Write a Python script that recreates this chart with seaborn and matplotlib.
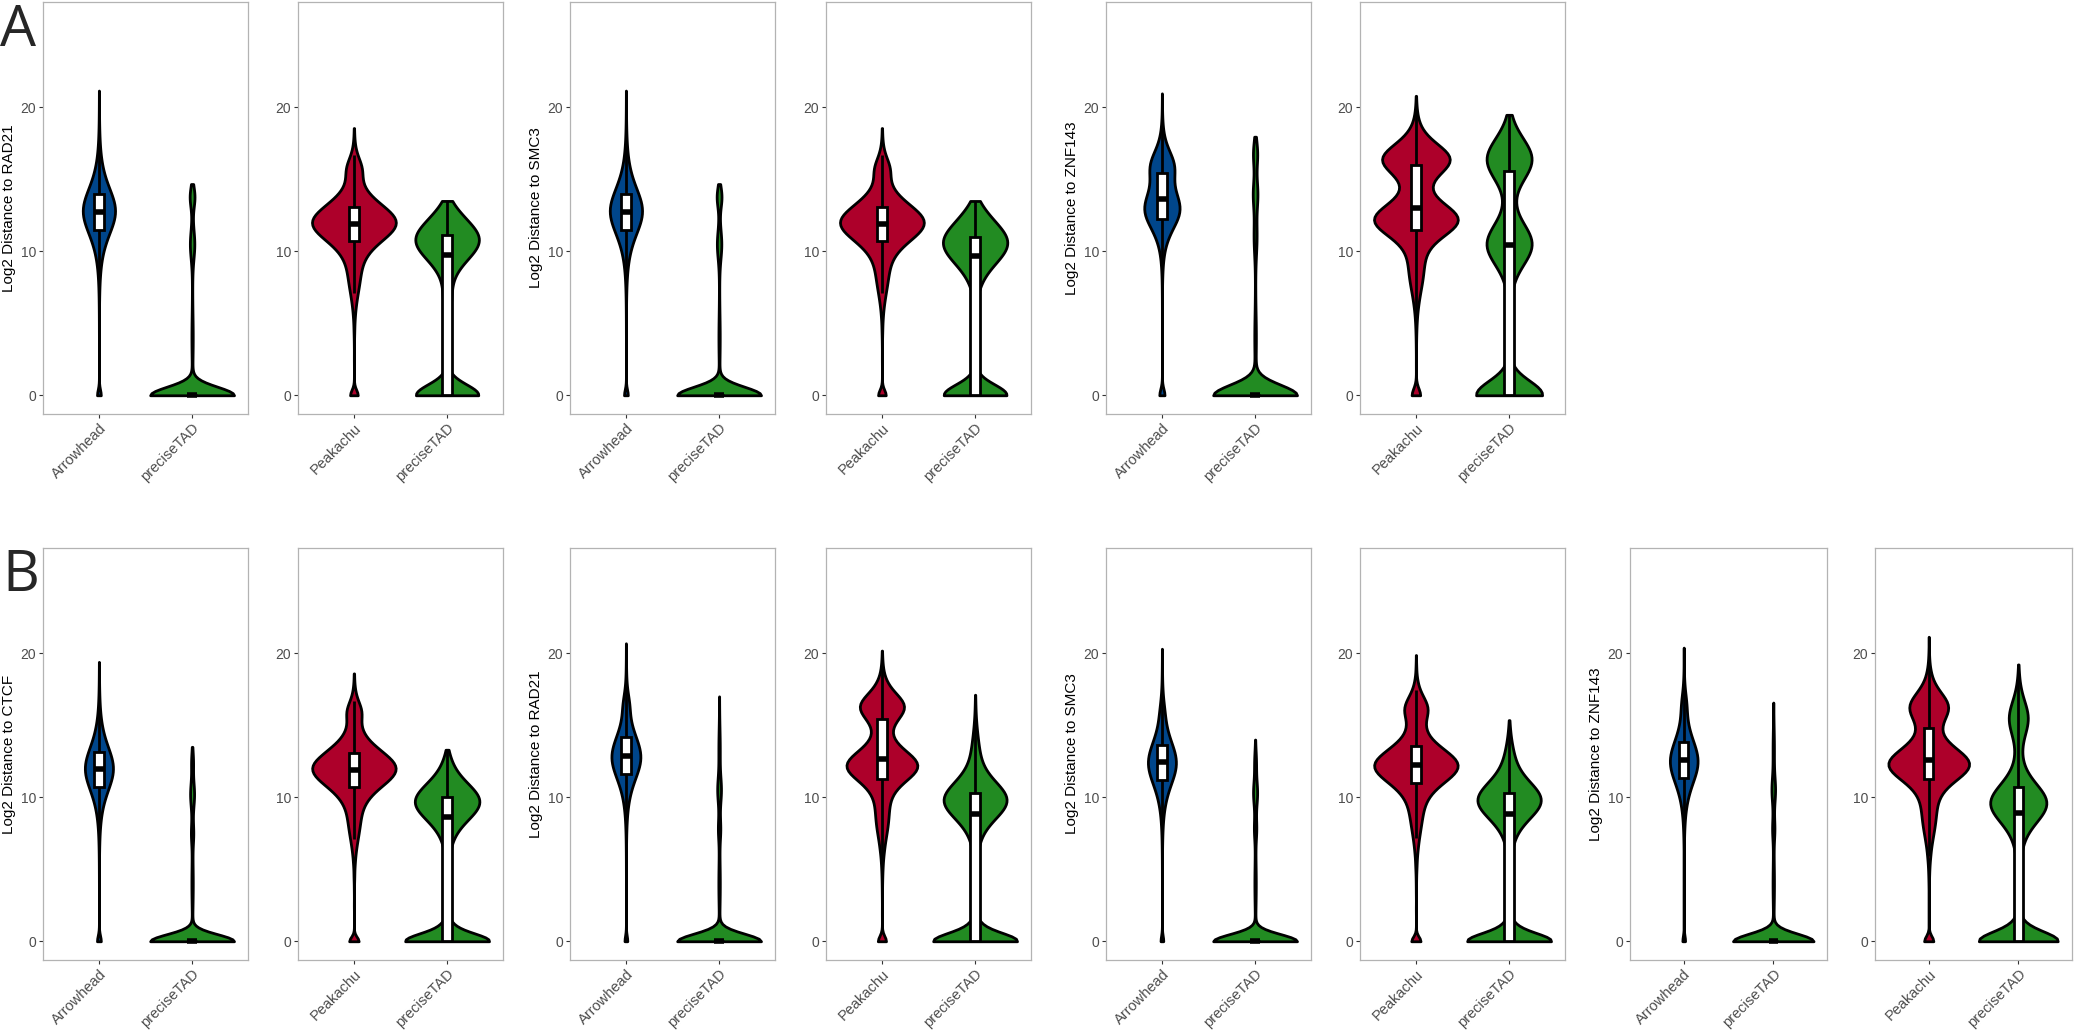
import numpy as np
import pandas as pd
import matplotlib
matplotlib.use("Agg")
import matplotlib.pyplot as plt
import seaborn as sns

# each violin is described by the modes:
# (centre, spread, share) in log2 distance, plus the largest value shown
# row A
A_RAD21_arrow = [(12.8, 2.0, 0.975), (0.0, 0.0, 0.025)]
A_RAD21_arrow_max = 22.2
A_RAD21_arrow_ptad = [(0.0, 0.0, 0.82), (4.0, 2.0, 0.04), (10.5, 1.0, 0.08), (13.8, 0.5, 0.06)]
A_RAD21_arrow_ptad_max = 14.7
A_RAD21_peak = [(12.0, 1.6, 0.84), (15.8, 0.8, 0.06), (8.0, 1.6, 0.08), (0.0, 0.0, 0.02)]
A_RAD21_peak_max = 19.0
A_RAD21_peak_ptad = [(0.0, 0.0, 0.28), (0.8, 0.4, 0.03), (6.5, 0.8, 0.04), (10.8, 1.5, 0.65)]
A_RAD21_peak_ptad_max = 13.5

A_SMC3_arrow = [(12.8, 2.0, 0.975), (0.0, 0.0, 0.025)]
A_SMC3_arrow_max = 21.8
A_SMC3_arrow_ptad = [(0.0, 0.0, 0.82), (4.0, 2.0, 0.04), (10.5, 1.0, 0.08), (13.8, 0.5, 0.06)]
A_SMC3_arrow_ptad_max = 14.7
A_SMC3_peak = [(12.0, 1.6, 0.84), (15.8, 0.8, 0.06), (8.0, 1.6, 0.08), (0.0, 0.0, 0.02)]
A_SMC3_peak_max = 18.7
A_SMC3_peak_ptad = [(0.0, 0.0, 0.28), (0.8, 0.4, 0.03), (10.6, 1.6, 0.69)]
A_SMC3_peak_ptad_max = 13.5

A_ZNF143_arrow = [(12.9, 1.6, 0.67), (16.0, 1.2, 0.30), (0.0, 0.0, 0.03)]
A_ZNF143_arrow_max = 22.1
A_ZNF143_arrow_ptad = [(0.0, 0.0, 0.80), (4.0, 2.0, 0.04), (11.0, 1.2, 0.05), (14.0, 0.8, 0.06), (16.8, 0.6, 0.05)]
A_ZNF143_arrow_ptad_max = 18.0
A_ZNF143_peak = [(12.2, 1.3, 0.50), (16.4, 1.2, 0.38), (8.5, 1.8, 0.10), (0.0, 0.0, 0.02)]
A_ZNF143_peak_max = 21.0
A_ZNF143_peak_ptad = [(0.0, 0.0, 0.28), (0.8, 0.4, 0.03), (5.0, 2.0, 0.03), (10.5, 1.3, 0.33), (16.4, 1.3, 0.33)]
A_ZNF143_peak_ptad_max = 19.5

# row B
B_CTCF_arrow = [(12.0, 1.9, 0.97), (0.0, 0.0, 0.03)]
B_CTCF_arrow_max = 19.6
B_CTCF_arrow_ptad = [(0.0, 0.0, 0.82), (4.0, 2.0, 0.05), (7.5, 0.6, 0.03), (10.2, 0.9, 0.075), (12.5, 0.6, 0.025)]
B_CTCF_arrow_ptad_max = 13.5
B_CTCF_peak = [(12.0, 1.6, 0.84), (16.0, 0.8, 0.06), (8.0, 1.6, 0.08), (0.0, 0.0, 0.02)]
B_CTCF_peak_max = 18.6
B_CTCF_peak_ptad = [(0.0, 0.0, 0.28), (0.8, 0.4, 0.05), (5.0, 2.0, 0.03), (9.7, 1.5, 0.64)]
B_CTCF_peak_ptad_max = 13.3

B_RAD21_arrow = [(12.8, 1.9, 0.93), (16.5, 0.8, 0.05), (0.0, 0.0, 0.02)]
B_RAD21_arrow_max = 21.05
B_RAD21_arrow_ptad = [(0.0, 0.0, 0.82), (4.0, 2.0, 0.05), (7.8, 0.6, 0.03), (10.5, 0.9, 0.065), (13.5, 1.5, 0.035)]
B_RAD21_arrow_ptad_max = 17.1
B_RAD21_peak = [(12.2, 1.3, 0.56), (16.3, 1.1, 0.30), (8.5, 1.8, 0.12), (0.0, 0.0, 0.02)]
B_RAD21_peak_max = 20.3
B_RAD21_peak_ptad = [(0.0, 0.0, 0.28), (0.8, 0.4, 0.05), (5.0, 2.0, 0.03), (9.8, 1.5, 0.60), (13.5, 1.5, 0.04)]
B_RAD21_peak_ptad_max = 17.9

B_SMC3_arrow = [(12.4, 1.9, 0.95), (16.0, 0.9, 0.03), (0.0, 0.0, 0.02)]
B_SMC3_arrow_max = 20.6
B_SMC3_arrow_ptad = [(0.0, 0.0, 0.82), (4.0, 2.0, 0.05), (7.8, 0.6, 0.03), (10.3, 0.9, 0.075), (12.5, 0.7, 0.025)]
B_SMC3_arrow_ptad_max = 14.1
B_SMC3_peak = [(12.2, 1.5, 0.76), (16.2, 1.0, 0.13), (8.5, 1.8, 0.09), (0.0, 0.0, 0.02)]
B_SMC3_peak_max = 20.3
B_SMC3_peak_ptad = [(0.0, 0.0, 0.28), (0.8, 0.4, 0.05), (5.0, 2.0, 0.03), (9.8, 1.5, 0.61), (13.0, 1.2, 0.03)]
B_SMC3_peak_ptad_max = 15.4

B_ZNF143_arrow = [(12.5, 1.9, 0.93), (16.5, 0.9, 0.05), (0.0, 0.0, 0.02)]
B_ZNF143_arrow_max = 21.2
B_ZNF143_arrow_ptad = [(0.0, 0.0, 0.82), (4.0, 2.0, 0.05), (7.8, 0.6, 0.03), (10.5, 0.9, 0.065), (13.5, 1.5, 0.035)]
B_ZNF143_arrow_ptad_max = 16.8
B_ZNF143_peak = [(12.3, 1.4, 0.62), (16.3, 1.2, 0.25), (8.5, 1.8, 0.11), (0.0, 0.0, 0.02)]
B_ZNF143_peak_max = 21.2
B_ZNF143_peak_ptad = [(0.0, 0.0, 0.27), (0.8, 0.4, 0.05), (5.0, 2.0, 0.03), (9.6, 1.5, 0.50), (15.5, 1.3, 0.15)]
B_ZNF143_peak_ptad_max = 19.4

colors = {"Arrowhead": "#00468B", "Peakachu": "#AD002A", "preciseTAD": "#228B22"}

panels_a = [
    ("RAD21", "Arrowhead", A_RAD21_arrow, A_RAD21_arrow_max, A_RAD21_arrow_ptad, A_RAD21_arrow_ptad_max),
    ("RAD21", "Peakachu", A_RAD21_peak, A_RAD21_peak_max, A_RAD21_peak_ptad, A_RAD21_peak_ptad_max),
    ("SMC3", "Arrowhead", A_SMC3_arrow, A_SMC3_arrow_max, A_SMC3_arrow_ptad, A_SMC3_arrow_ptad_max),
    ("SMC3", "Peakachu", A_SMC3_peak, A_SMC3_peak_max, A_SMC3_peak_ptad, A_SMC3_peak_ptad_max),
    ("ZNF143", "Arrowhead", A_ZNF143_arrow, A_ZNF143_arrow_max, A_ZNF143_arrow_ptad, A_ZNF143_arrow_ptad_max),
    ("ZNF143", "Peakachu", A_ZNF143_peak, A_ZNF143_peak_max, A_ZNF143_peak_ptad, A_ZNF143_peak_ptad_max),
]
panels_b = [
    ("CTCF", "Arrowhead", B_CTCF_arrow, B_CTCF_arrow_max, B_CTCF_arrow_ptad, B_CTCF_arrow_ptad_max),
    ("CTCF", "Peakachu", B_CTCF_peak, B_CTCF_peak_max, B_CTCF_peak_ptad, B_CTCF_peak_ptad_max),
    ("RAD21", "Arrowhead", B_RAD21_arrow, B_RAD21_arrow_max, B_RAD21_arrow_ptad, B_RAD21_arrow_ptad_max),
    ("RAD21", "Peakachu", B_RAD21_peak, B_RAD21_peak_max, B_RAD21_peak_ptad, B_RAD21_peak_ptad_max),
    ("SMC3", "Arrowhead", B_SMC3_arrow, B_SMC3_arrow_max, B_SMC3_arrow_ptad, B_SMC3_arrow_ptad_max),
    ("SMC3", "Peakachu", B_SMC3_peak, B_SMC3_peak_max, B_SMC3_peak_ptad, B_SMC3_peak_ptad_max),
    ("ZNF143", "Arrowhead", B_ZNF143_arrow, B_ZNF143_arrow_max, B_ZNF143_arrow_ptad, B_ZNF143_arrow_ptad_max),
    ("ZNF143", "Peakachu", B_ZNF143_peak, B_ZNF143_peak_max, B_ZNF143_peak_ptad, B_ZNF143_peak_ptad_max),
]

N = 3000


def expand(modes, top):
    # spread each mode over evenly spaced quantiles (no randomness)
    vals = []
    for centre, spread, share in modes:
        k = int(round(share * N))
        p = (np.arange(k) + 0.5) / k
        vals.append(centre + spread * 0.5513 * np.log(p / (1 - p)))
    v = np.concatenate(vals)
    return v[(v >= 0) & (v <= top)]


sns.set_style("white")
plt.rcParams["font.family"] = ["Liberation Sans", "DejaVu Sans"]

W, H = 2094, 1031
fig = plt.figure(figsize=(W / 100, H / 100), dpi=100)

# panel boxes in pixels: left, width ; rows: top, bottom
lefts_a = [43, 298, 570, 826, 1106, 1360]
widths_a = [205] * 6
bw_a = [0.7] * 6
lefts_b = [43, 298, 570, 826, 1106, 1360, 1630, 1875]
widths_b = [205] * 6 + [197, 197]
bw_b = [0.7, 0.55] * 4


def draw(panel, left, width, top, bottom, bw):
    target, caller, m1, t1, m2, t2 = panel
    a = expand(m1, t1)
    b = expand(m2, t2)
    df = pd.DataFrame({"tool": [caller] * len(a) + ["preciseTAD"] * len(b),
                       "dist": np.concatenate([a, b])})
    order = [caller, "preciseTAD"]
    ax = fig.add_axes([left / W, 1 - bottom / H, width / W, (bottom - top) / H])
    sns.violinplot(data=df, x="tool", y="dist", hue="tool", order=order, hue_order=order,
                   palette=[colors[o] for o in order], saturation=1, inner=None, cut=0,
                   density_norm="area", common_norm=True, width=0.9, bw_adjust=bw,
                   linewidth=2, linecolor="black", legend=False, ax=ax)
    sns.boxplot(data=df, x="tool", y="dist", order=order, width=0.1, color="white",
                saturation=1, linecolor="black", linewidth=2, showfliers=False,
                showcaps=False, medianprops={"linewidth": 4, "solid_capstyle": "butt"}, ax=ax)
    ax.set_xlim(-0.6, 1.6)
    ax.set_ylim(-1.3, 27.3)
    ax.set_yticks([0, 10, 20])
    ax.set_xlabel("")
    if caller == "Arrowhead":
        ax.set_ylabel("Log2 Distance to " + target, fontsize=11, color="black", labelpad=3)
    else:
        ax.set_ylabel("")
    for s in ax.spines.values():
        s.set_color("#B3B3B3")
        s.set_linewidth(0.9)
    ax.tick_params(axis="both", color="#333333", labelcolor="#4D4D4D", length=3,
                   width=0.8, labelsize=10, pad=2, left=True, bottom=True)
    plt.setp(ax.get_xticklabels(), rotation=45, ha="right", va="top",
             rotation_mode="anchor", fontsize=10.5)


for p, l, w, bw in zip(panels_a, lefts_a, widths_a, bw_a):
    draw(p, l, w, 2, 414, bw)
for p, l, w, bw in zip(panels_b, lefts_b, widths_b, bw_b):
    draw(p, l, w, 548, 960, bw)

fig.text(0 / W, 1 - 3 / H, "A", fontsize=41, family="Open Sans", va="top", ha="left")
fig.text(2 / W, 1 - 548 / H, "B", fontsize=41, family="Open Sans", va="top", ha="left")

fig.savefig("out.png", dpi=100)
